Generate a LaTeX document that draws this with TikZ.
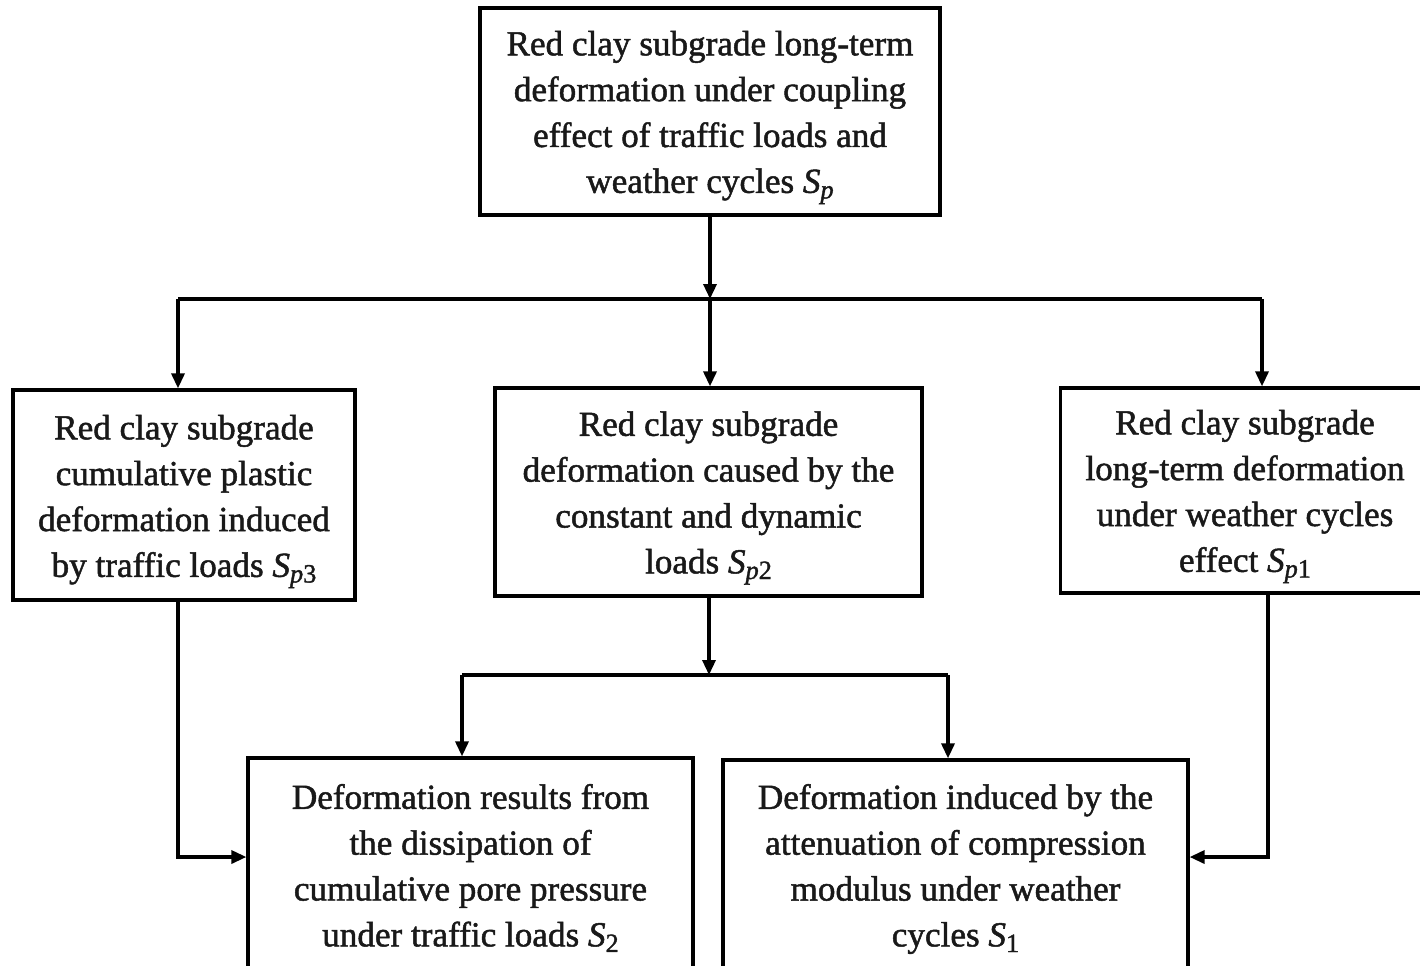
\documentclass[tikz,border=0pt]{standalone}
\usepackage{fontspec}
\setmainfont{Liberation Serif}[FakeBold=1.4]
\usetikzlibrary{arrows.meta}
\newcommand\Sub[2]{\textit{#1}\raisebox{-0.35ex}{\fontsize{15}{15}\selectfont #2}}
\begin{document}
\begin{tikzpicture}[x=0.02cm,y=-0.02cm,
  box/.style={draw,line width=1.9pt,inner sep=0pt},
  txt/.style={align=center,inner sep=0pt,text=black!90,
    font=\fontsize{20}{26.1}\selectfont},
  conn/.style={line width=1.9pt},
  arr/.style={conn,-{Triangle[length=0.3cm,width=0.26cm]}}]
\useasboundingbox (0,0) rectangle (1420,965);
\node[box,minimum width=9.2cm,minimum height=4.14cm] (t) at (710,111.5) {};
\node[txt] (tt) at ([yshift=-0.12cm]t.center)
  {Red clay subgrade long-term\\deformation under coupling\\effect of traffic loads and\\weather cycles \Sub{S}{\textit{p}}};
\node[box,minimum width=6.84cm,minimum height=4.2cm] (l) at (184,495) {};
\node[txt] (lt) at ([yshift=-0.13cm]l.center)
  {Red clay subgrade\\cumulative plastic\\deformation induced\\by traffic loads \Sub{S}{\textit{p}3}};
\node[box,minimum width=8.54cm,minimum height=4.16cm] (m) at (708.5,492) {};
\node[txt] (mt) at ([yshift=-0.12cm]m.center)
  {Red clay subgrade\\deformation caused by the\\constant and dynamic\\loads \Sub{S}{\textit{p}2}};
\node[box,minimum width=7.3cm,minimum height=4.1cm] (r) at (1243,490.5) {};
\node[txt] (rt) at ([xshift=0.04cm,yshift=-0.12cm]r.center)
  {Red clay subgrade\\long-term deformation\\under weather cycles\\effect \Sub{S}{\textit{p}1}};
\node[box,minimum width=8.9cm,minimum height=4.2cm] (bl) at (470.5,863) {};
\node[txt] (blt) at ([yshift=-0.1cm]bl.center)
  {Deformation results from\\the dissipation of\\cumulative pore pressure\\under traffic loads \Sub{S}{2}};
\node[box,minimum width=9.3cm,minimum height=4.16cm] (br) at (955.5,864) {};
\node[txt] (brt) at ([yshift=-0.1cm]br.center)
  {Deformation induced by the\\attenuation of compression\\modulus under weather\\cycles \Sub{S}{1}};
\coordinate (j1) at (710,299);
\coordinate (j1l) at (178,299);
\coordinate (j1r) at (1262,299);
\coordinate (j2) at (709,675);
\coordinate (j2l) at (462,675);
\coordinate (j2r) at (948,675);
\draw[arr] (t.south) -- (j1);
\draw[conn] (j1l) -- (j1r);
\draw[arr] (j1l) -- (j1l |- l.north);
\draw[arr] (j1) -- (j1 |- m.north);
\draw[arr] (j1r) -- (j1r |- r.north);
\draw[arr] (m.south -| j2) -- (j2);
\draw[conn] (j2l) -- (j2r);
\draw[arr] (j2l) -- (j2l |- bl.north);
\draw[arr] (j2r) -- (j2r |- br.north);
\draw[arr] (j1l |- l.south) |- ([yshift=0.12cm]bl.west);
\draw[arr] ([xshift=0.5cm]r.south) |- ([yshift=0.14cm]br.east);
\end{tikzpicture}
\end{document}
